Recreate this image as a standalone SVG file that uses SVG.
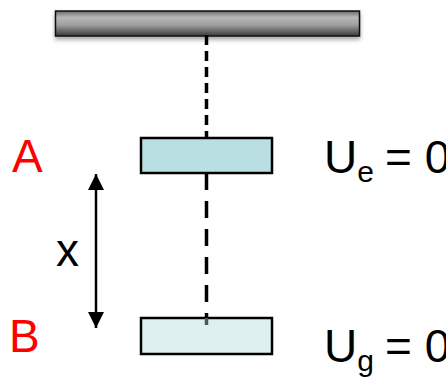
<svg xmlns="http://www.w3.org/2000/svg" width="446" height="377" viewBox="0 0 446 377">
<style>
.lbl{font-family:"Liberation Sans",Arial,sans-serif;font-size:46px}
.red{fill:#ff0000}
.blk{fill:#000}
.box{stroke:#000;stroke-width:2.5}
.dash{stroke:#000;stroke-width:3.5;fill:none}
</style>
<defs>
<linearGradient id="bar" x1="0" y1="0" x2="0" y2="1">
<stop offset="0" stop-color="#6a6a6a"/>
<stop offset="0.25" stop-color="#b8b8b8"/>
<stop offset="0.55" stop-color="#a0a0a0"/>
<stop offset="1" stop-color="#3a3a3a"/>
</linearGradient>
<filter id="sh" x="-5%" y="-30%" width="110%" height="180%">
<feDropShadow dx="0" dy="3" stdDeviation="2" flood-color="#000" flood-opacity="0.35"/>
</filter>
<marker id="ah" viewBox="0 0 16 16" refX="16" refY="8" markerWidth="16" markerHeight="16" markerUnits="userSpaceOnUse" orient="auto-start-reverse">
<path d="M0,0 L16,8 L0,16 Z" fill="#000"/>
</marker>
</defs>
<g id="ceiling">
<rect x="55.5" y="11" width="304" height="25" fill="url(#bar)" stroke="#111" stroke-width="1.5" filter="url(#sh)"/>
</g>
<g id="connectors">
<line class="dash" x1="206.5" y1="35" x2="206.5" y2="137" stroke-dasharray="10 6"/>
<line class="dash" x1="206.5" y1="173" x2="206.5" y2="325" stroke-dasharray="17 11"/>
<line x1="96" y1="174" x2="96" y2="328" stroke="#000" stroke-width="2.5" marker-start="url(#ah)" marker-end="url(#ah)"/>
</g>
<g id="boxA">
<rect class="box" x="141" y="138" width="131" height="35" fill="#b9dfe2"/>
</g>
<g id="boxB">
<rect class="box" x="141" y="318" width="131" height="36" fill="#dff0f0"/>
<line x1="206.5" y1="318" x2="206.5" y2="325" stroke="#555" stroke-width="3.5"/>
</g>
<g id="labelA"><text class="lbl red" x="12" y="172">A</text></g>
<g id="labelB"><text class="lbl red" x="9" y="352">B</text></g>
<g id="labelX"><text class="lbl blk" x="56" y="266">x</text></g>
<g id="labelUe"><text class="lbl blk" x="324" y="173">U<tspan font-size="30" dy="9">e</tspan><tspan x="385" dy="-9">= 0</tspan></text></g>
<g id="labelUg"><text class="lbl blk" x="324" y="362">U<tspan font-size="30" dy="9">g</tspan><tspan x="385" dy="-9">= 0</tspan></text></g>
</svg>
